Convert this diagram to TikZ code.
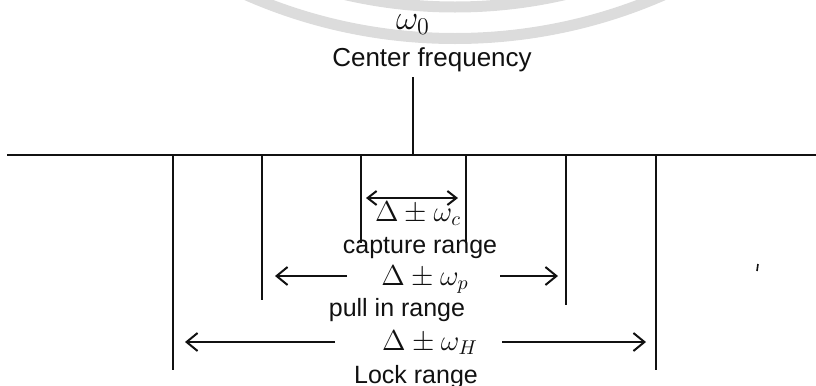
\documentclass[tikz,border=0pt]{standalone}
\usepackage{fontspec}
\setmainfont{Liberation Sans}
\usetikzlibrary{arrows.meta}
\definecolor{PLLInk}{HTML}{111111}
\definecolor{PLLMark}{HTML}{DCDCDC}

\begin{document}
\begin{tikzpicture}[
  x=0.5pt, y=-0.5pt,
  rule/.style={draw=PLLInk, line width=1pt},
  span/.style={rule, -{Straight Barb[length=5.5pt, width=9pt]}},
  both/.style={rule, {Straight Barb[length=4.5pt, width=7pt]}-{Straight Barb[length=4.5pt, width=7pt]}},
  lbl/.style={text=PLLInk, inner sep=0pt, anchor=base, font=\fontsize{12.5}{15}\selectfont},
  sym/.style={lbl, font=\fontsize{14}{17}\selectfont},
  ring/.style={draw=PLLMark, line width=5.5pt}
]
\useasboundingbox (0,0) rectangle (816,386);
\begin{scope}
  \clip (0,0) rectangle (816,386);
  \draw[ring] (455,-481) circle[radius=259.75pt];
  \draw[ring] (455,-481) circle[radius=244pt];
\end{scope}
\node[sym, font=\fontsize{18}{20}\selectfont] (w0) at (413,29) {$\omega_0$};
\node[lbl, font=\fontsize{13}{15}\selectfont] (centre) at (432,66) {Center frequency};
\node[sym] (capc) at (418,221) {$\Delta\pm\omega_c$};
\node[lbl] (captxt) at (420,253) {capture range};
\node[sym] (pullp) at (425,285) {$\Delta\pm\omega_p$};
\node[lbl] (pulltxt) at (397,316) {pull in range};
\node[sym] (lockh) at (430,350) {$\Delta\pm\omega_H$};
\node[lbl] (locktxt) at (416,383) {Lock range};
\coordinate (axL) at (7,155);
\coordinate (axR) at (816,155);
\coordinate (tick) at (413,77);
\coordinate (mid) at (413,155);
\coordinate (lockLt) at (173,155);
\coordinate (lockLb) at (173,370);
\coordinate (lockRt) at (656,155);
\coordinate (lockRb) at (656,370);
\coordinate (pullLt) at (262,155);
\coordinate (pullLb) at (262,300);
\coordinate (pullRt) at (566,155);
\coordinate (pullRb) at (566,305);
\coordinate (capLt) at (361,155);
\coordinate (capLb) at (361,243);
\coordinate (capRt) at (466,155);
\coordinate (capRb) at (466,243);
\coordinate (capA) at (366,198);
\coordinate (capB) at (458,198);
\coordinate (pullA) at (347,276);
\coordinate (pullB) at (275,276);
\coordinate (pullC) at (500,276);
\coordinate (pullD) at (558,276);
\coordinate (lockA) at (335,342);
\coordinate (lockB) at (185,342);
\coordinate (lockC) at (502,342);
\coordinate (lockD) at (646,342);
\coordinate (specA) at (758,264);
\coordinate (specB) at (757,271);
\draw[rule] (axL) -- (axR);
\draw[rule] (tick) -- (mid);
\draw[rule] (lockLt) -- (lockLb);
\draw[rule] (lockRt) -- (lockRb);
\draw[rule] (pullLt) -- (pullLb);
\draw[rule] (pullRt) -- (pullRb);
\draw[rule] (capLt) -- (capLb);
\draw[rule] (capRt) -- (capRb);
\draw[both] (capA) -- (capB);
\draw[span] (pullA) -- (pullB);
\draw[span] (pullC) -- (pullD);
\draw[span] (lockA) -- (lockB);
\draw[span] (lockC) -- (lockD);
\draw[rule, line width=0.8pt] (specA) -- (specB);
\end{tikzpicture}
\end{document}
